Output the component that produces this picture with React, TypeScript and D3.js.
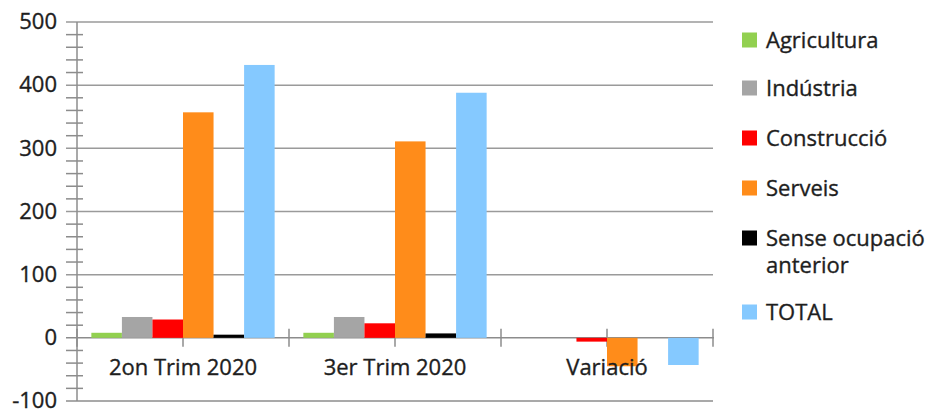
import React from "react";
import * as d3 from "d3";

const categories = ["2on Trim 2020", "3er Trim 2020", "Variació"];
const seriesNames = ["Agricultura", "Indústria", "Construcció", "Serveis", "Sense ocupació anterior", "TOTAL"];
const seriesColors = ["#92D050", "#A5A5A5", "#FF0000", "#FF8C1A", "#000000", "#85C9FF"];

const agricultura = [8, 8, 0];
const industria = [33, 33, 0];
const construccio = [29, 23, -6];
const serveis = [357, 311, -45];
const senseOcupacio = [5, 7, 0];
const total = [432, 388, -43];

const seriesValues = [agricultura, industria, construccio, serveis, senseOcupacio, total];
const yTicks = [-100, 0, 100, 200, 300, 400, 500];

const FONT = "'Open Sans', sans-serif";
const textStyle = { fontFamily: FONT, fontSize: 22, fill: "#1e1e1e", stroke: "#1e1e1e", strokeWidth: 0.35 };

const App = () => {
    const width = 930, height = 412;
    const left = 77, right = 713, top = 22, bottom = 401;

    const y = d3.scaleLinear().domain([-100, 500]).range([bottom, top]);
    const x = d3.scaleBand().domain(categories).range([left, right]);
    const xInner = d3.scaleBand().domain(seriesNames).range([0, x.bandwidth()]).paddingOuter(0.47);

    const minor = d3.range(-100, 501, 20).filter((d) => d % 100 !== 0);
    const halfTicks = d3.range(0, categories.length * 2 + 1).map((i) => left + (i * x.bandwidth()) / 2);

    const gridColor = "#9a9a9a";
    const axisColor = "#8c8c8c";

    return (
        <svg width={width} height={height} style={{ position: "absolute", left: 0, top: 0, background: "#fff" }}>
            {/* gridlines */}
            {yTicks.filter((d) => d !== 0 && d !== -100).map((d) => (
                <line key={"g" + d} x1={66} x2={right} y1={y(d)} y2={y(d)} stroke={gridColor} strokeWidth={1.5} />
            ))}
            <line x1={66} x2={right} y1={y(-100)} y2={y(-100)} stroke={axisColor} strokeWidth={1.5} />
            {/* y axis */}
            <line x1={left} x2={left} y1={top} y2={bottom} stroke={axisColor} strokeWidth={1.5} />
            {minor.map((d) => (
                <line key={"m" + d} x1={66} x2={83} y1={y(d)} y2={y(d)} stroke={axisColor} strokeWidth={1.5} />
            ))}
            {yTicks.map((d) => (
                <text key={"t" + d} x={57} y={y(d)} dy="0.33em" textAnchor="end" style={textStyle}>{d}</text>
            ))}
            {/* x axis at zero */}
            {halfTicks.map((t, i) => (
                <line key={"h" + i} x1={t} x2={t} y1={y(0) - 9} y2={y(0) + 9} stroke={axisColor} strokeWidth={1.5} />
            ))}
            <line x1={66} x2={right + 1} y1={y(0)} y2={y(0)} stroke={axisColor} strokeWidth={1.5} />
            {/* bars */}
            {seriesNames.map((s, si) => (
                <g key={s}>
                    {categories.map((c, ci) => {
                        const v = seriesValues[si][ci];
                        if (v === 0) return null;
                        return (
                            <rect key={c}
                                x={(x(c) as number) + (xInner(s) as number)}
                                y={Math.min(y(v), y(0))}
                                width={xInner.bandwidth()}
                                height={Math.abs(y(v) - y(0))}
                                fill={seriesColors[si]} />
                        );
                    })}
                </g>
            ))}
            {/* category labels */}
            {categories.map((c) => (
                <text key={c} x={(x(c) as number) + x.bandwidth() / 2} y={375} textAnchor="middle" style={textStyle}>{c}</text>
            ))}
            {/* legend */}
            {seriesNames.map((s, i) => {
                const rows = [40, 88, 138, 188, 238, 312];
                const cy = rows[i];
                const lines = s === "Sense ocupació anterior" ? ["Sense ocupació", "anterior"] : [s];
                return (
                    <g key={"l" + s}>
                        <rect x={742} y={cy - 7.5} width={15} height={15} fill={seriesColors[i]} />
                        {lines.map((ln, li) => (
                            <text key={li} x={766} y={cy + li * 27} dy="0.35em" style={textStyle}>{ln}</text>
                        ))}
                    </g>
                );
            })}
        </svg>
    );
};

export default App;
